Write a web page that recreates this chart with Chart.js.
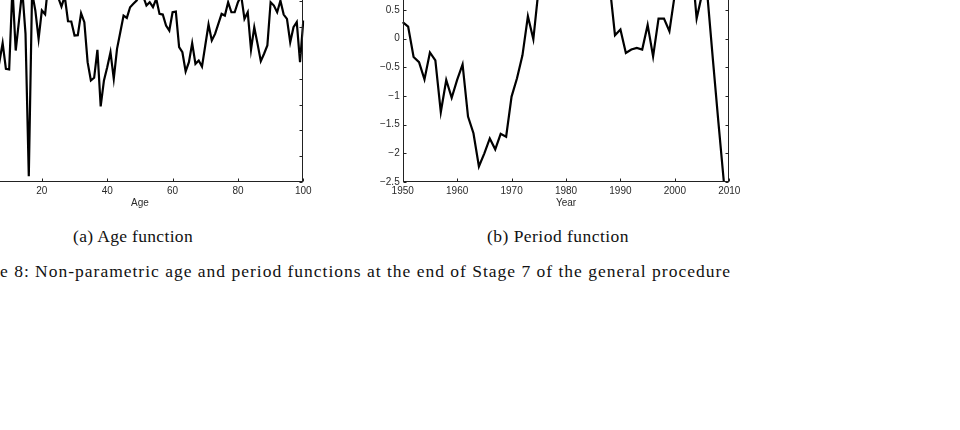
<!DOCTYPE html>
<html><head><meta charset="utf-8">
<script src="https://cdn.jsdelivr.net/npm/chart.js@4.4.0/dist/chart.umd.min.js"></script>
<style>
html,body{margin:0;padding:0;background:#fff;width:960px;height:430px;overflow:hidden;position:relative}
.wrap{position:absolute}
.cap{position:absolute;font-family:"Liberation Serif","DejaVu Serif",serif;color:#111;white-space:nowrap;line-height:1;font-size:17.5px}
</style></head><body>
<div class="wrap" style="left:-80px;top:-96px;width:420px;height:320px"><canvas id="ca"></canvas></div>
<div class="wrap" style="left:352px;top:-96px;width:420px;height:320px"><canvas id="cb"></canvas></div>
<div class="cap" id="capA">(a) Age function</div>
<div class="cap" id="capB">(b) Period function</div>
<div class="cap" id="capF"><span id="fHead">Figur</span><span id="fTail">e 8: Non-parametric age and period functions at the end of Stage 7 of the general procedure</span></div>
<script>
// ---------- data ----------
const ages = [0,1,2,3,4,5,6,7,8,9,10,11,12,13,14,15,16,17,18,19,20,21,22,23,24,25,26,27,28,29,30,
  31,32,33,34,35,36,37,38,39,40,41,42,43,44,45,46,47,48,49,50,51,52,53,54,55,56,57,58,59,60,
  61,62,63,64,65,66,67,68,69,70,71,72,73,74,75,76,77,78,79,80,81,82,83,84,85,86,87,88,89,90,
  91,92,93,94,95,96,97,98,99,100];
const ageEffect = [0.25,0.15,0.05,0.10,-0.05,0.12,0.02,-0.07,0.076,-0.123,-0.128,
  0.51,0.019,0.25,0.49,0.148,-0.956,0.47,0.33,0.11,0.33,
  0.30,0.55,0.62,0.52,0.43,0.36,0.44,0.246,0.244,0.135,
  0.138,0.308,0.239,-0.071,-0.213,-0.192,0.025,-0.414,-0.213,-0.110,
  0.006,-0.200,0.032,0.161,0.290,0.272,0.355,0.381,0.406,0.45,
  0.44,0.368,0.394,0.355,0.42,0.303,0.298,0.213,0.174,0.316,
  0.321,0.045,0.006,-0.143,-0.071,0.076,-0.084,-0.058,-0.105,0.058,
  0.221,0.097,0.148,0.226,0.303,0.290,0.394,0.316,0.316,0.394,
  0.445,0.265,0.316,0.025,0.200,0.071,-0.063,-0.006,0.058,0.394,
  0.368,0.316,0.406,0.298,0.265,0.084,0.200,0.239,-0.071,0.252];
const years = [1950,1951,1952,1953,1954,1955,1956,1957,1958,1959,1960,1961,1962,1963,1964,
  1965,1966,1967,1968,1969,1970,1971,1972,1973,1974,1975,1976,1977,1978,1979,1980,1981,1982,
  1983,1984,1985,1986,1987,1988,1989,1990,1991,1992,1993,1994,1995,1996,1997,1998,1999,2000,
  2001,2002,2003,2004,2005,2006,2007,2008,2009];
const periodEffect = [0.29,0.21,-0.32,-0.41,-0.71,-0.24,-0.38,-1.28,-0.72,-1.03,
  -0.72,-0.45,-1.36,-1.65,-2.23,-2.00,-1.74,-1.93,-1.66,-1.71,
  -1.01,-0.69,-0.29,0.39,-0.01,0.90,1.15,1.35,1.50,1.60,
  1.55,1.62,1.45,1.40,1.30,1.35,1.20,1.10,0.95,0.06,
  0.16,-0.25,-0.19,-0.16,-0.19,0.24,-0.31,0.35,0.35,0.13,
  0.78,1.10,1.25,1.43,0.35,0.78,0.73,-0.38,-1.46,-2.50];
const ageTicks = [0,20,40,60,80,100];
const yearTicks = [1950,1960,1970,1980,1990,2000,2010];
const ageYTicks = [-1,-0.8,-0.6,-0.4,-0.2,0,0.2,0.4,0.6,0.8,1];
const periodYTicks = [-2.5,-2,-1.5,-1,-0.5,0,0.5,1,1.5,2];

// ---------- styling ----------
const TICK_FONT = {family:'"Liberation Sans", Arial, Helvetica, sans-serif', size:10};
const TXT = '#2a2a2a';
const fmt = v => String(Math.round(v*100)/100).replace('-', '\u2212');

const framePlugin = {
  id:'frame',
  afterDatasetsDraw(chart){
    const {ctx, chartArea:a, scales:{x,y}} = chart;
    const L = Math.round(a.left)+0.5, R = Math.round(a.right)-0.5,
          T = Math.round(a.top)+0.5, B = Math.round(a.bottom)-0.5;
    ctx.save();
    ctx.strokeStyle = '#222'; ctx.lineWidth = 1;
    ctx.strokeRect(L, T, R-L, B-T);
    const tl = 3;
    ctx.beginPath();
    x.ticks.forEach(t => {
      const px = Math.round(x.getPixelForValue(t.value))+0.5;
      ctx.moveTo(px, B); ctx.lineTo(px, B-tl);
      ctx.moveTo(px, T); ctx.lineTo(px, T+tl);
    });
    y.ticks.forEach(t => {
      const py = Math.round(y.getPixelForValue(t.value))+0.5;
      ctx.moveTo(L, py); ctx.lineTo(L+tl, py);
      ctx.moveTo(R, py); ctx.lineTo(R-tl, py);
    });
    ctx.stroke();
    ctx.restore();
  }
};

function makeChart(id, xs, ys, o){
  return new Chart(document.getElementById(id), {
    type:'line',
    data:{datasets:[{data: xs.map((v,i)=>({x:v, y:ys[i]})), borderColor:'#000', borderWidth:2.2,
      pointRadius:0, tension:0, fill:false, clip:1}]},
    options:{
      responsive:true, maintainAspectRatio:false, animation:false,
      layout:{padding:o.pad},
      plugins:{legend:{display:false}, tooltip:{enabled:false}},
      scales:{
        x:{type:'linear', min:o.xmin, max:o.xmax,
          afterBuildTicks:s=>{s.ticks = o.xticks.map(v=>({value:v}));},
          afterFit:s=>{s.height = o.xh;},
          grid:{display:false, drawTicks:false}, border:{display:false},
          ticks:{padding:3.5, maxRotation:0, autoSkip:false, color:TXT, font:TICK_FONT, callback:v=>String(v)},
          title:{display:true, text:o.xtitle, color:TXT, font:TICK_FONT, padding:{top:0,bottom:15}}},
        y:{type:'linear', min:o.ymin, max:o.ymax,
          afterBuildTicks:s=>{s.ticks = o.yticks.map(v=>({value:v}));},
          afterFit:s=>{s.width = o.yw;},
          grid:{display:false, drawTicks:false}, border:{display:false},
          ticks:{padding:3, autoSkip:false, color:TXT, font:TICK_FONT, callback:fmt}}
      }
    },
    plugins:[framePlugin]
  });
}

makeChart('ca', ages, ageEffect, {xmin:0, xmax:100, ymin:-1, ymax:1, xticks:ageTicks, yticks:ageYTicks,
  xtitle:'Age', pad:{left:0, right:36.7, top:20, bottom:0}, yw:56.5, xh:42});
makeChart('cb', years, periodEffect, {xmin:1950, xmax:2010, ymin:-2.5, ymax:2, xticks:yearTicks, yticks:periodYTicks,
  xtitle:'Year', pad:{left:0, right:42.7, top:20, bottom:0}, yw:50.7, xh:42});

// ---------- captions ----------
function spaceTo(el, measureEl, target){
  el.style.letterSpacing = '0px';
  const w = measureEl.getBoundingClientRect().width;
  const n = measureEl.textContent.length;
  el.style.letterSpacing = ((target - w)/n) + 'px';
}
function place(el, left, cy){
  const h = el.getBoundingClientRect().height;
  el.style.left = left + 'px';
  el.style.top = (cy - h/2) + 'px';
}
const capA = document.getElementById('capA');
spaceTo(capA, capA, 120); place(capA, 73, 237);
const capB = document.getElementById('capB');
spaceTo(capB, capB, 142); place(capB, 487, 237);
const capF = document.getElementById('capF');
spaceTo(capF, document.getElementById('fTail'), 731);
place(capF, -document.getElementById('fHead').getBoundingClientRect().width, 272);
</script>
</body></html>
